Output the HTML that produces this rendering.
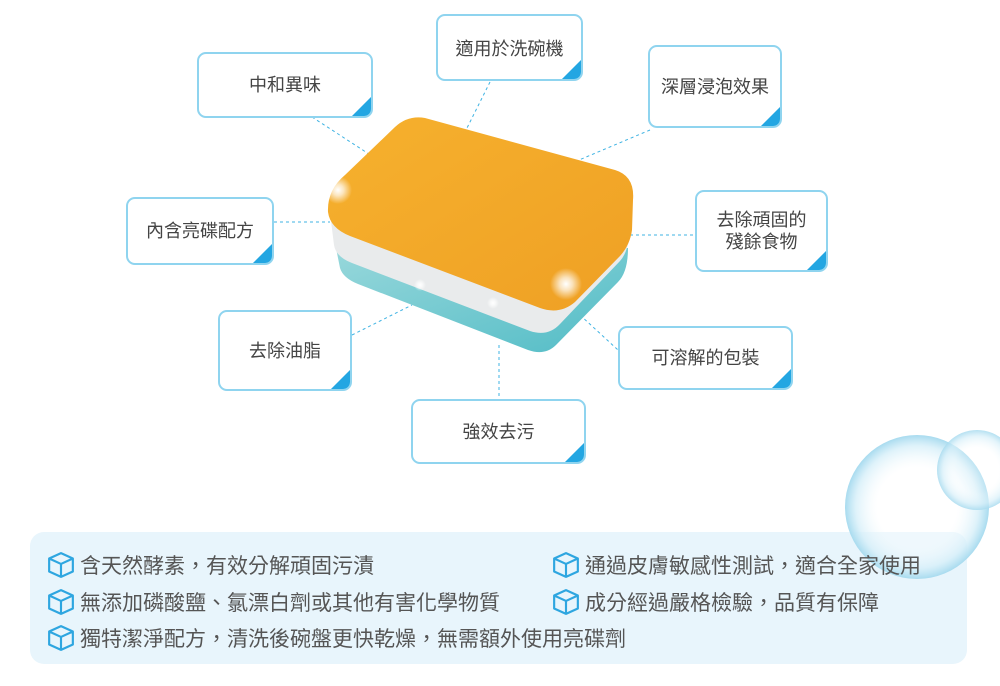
<!DOCTYPE html>
<html><head><meta charset="utf-8"><style>
body{margin:0;width:1000px;height:686px;background:#fff;position:relative;overflow:hidden;font-family:"Liberation Sans","Noto Sans CJK TC",sans-serif;}
.b{position:absolute;box-sizing:border-box;border:2px solid #8fd4ef;border-radius:9px;background:#fff;display:flex;align-items:center;justify-content:center;text-align:center;color:#444;font-size:18px;line-height:22px;overflow:hidden}
.b::after{content:"";position:absolute;right:0;bottom:0;width:0;height:0;border-style:solid;border-width:0 0 19px 19px;border-color:transparent transparent #23a6e2 transparent}
svg{position:absolute;left:0;top:0}
.foot{position:absolute;left:30px;top:532px;width:937px;height:132px;background:#e8f5fc;border-radius:14px}
.li{position:absolute;font-size:21px;color:#555;display:flex;align-items:center;white-space:nowrap}
.li svg{position:static;margin-right:5px}
</style></head><body>
<div class="foot"></div>
<svg width="1000" height="686">
<defs>
<radialGradient id="bub" cx="0.5" cy="0.5" r="0.5"><stop offset="0.55" stop-color="#fff" stop-opacity="0.3"/><stop offset="0.85" stop-color="#d6eff9" stop-opacity="0.8"/><stop offset="1" stop-color="#a8dbef"/></radialGradient>
<radialGradient id="spk" cx="0.5" cy="0.5" r="0.5"><stop offset="0" stop-color="#fff"/><stop offset="0.4" stop-color="#fff" stop-opacity="0.7"/><stop offset="1" stop-color="#fff" stop-opacity="0"/></radialGradient>
<linearGradient id="org" x1="0" y1="0" x2="1" y2="1"><stop offset="0" stop-color="#f6b12e"/><stop offset="1" stop-color="#efa024"/></linearGradient>
<linearGradient id="tea" x1="0" y1="0" x2="1" y2="1"><stop offset="0" stop-color="#9bd9dc"/><stop offset="1" stop-color="#52bcc6"/></linearGradient>
</defs>
<circle cx="917" cy="507" r="72" fill="url(#bub)"/>
<circle cx="977" cy="470" r="40" fill="url(#bub)" opacity="0.85"/>
<g stroke="#3fb3e3" stroke-width="1" stroke-dasharray="3,3" fill="none">
<line x1="312" y1="117" x2="375" y2="158"/>
<line x1="490" y1="82" x2="465" y2="132"/>
<line x1="650" y1="130" x2="572" y2="163"/>
<line x1="274" y1="222" x2="330" y2="222"/>
<line x1="630" y1="235" x2="695" y2="235"/>
<line x1="352" y1="335" x2="412" y2="305"/>
<line x1="580" y1="315" x2="618" y2="350"/>
<line x1="499" y1="345" x2="499" y2="399"/>
</g>
<path d="M334,238 L340,268 Q343,278 358,284 L528,350 Q545,356 556,345 L618,282 Q628,272 628,248 Z" fill="url(#tea)"/>
<path d="M330,213 L334,245 Q336,257 352,263 L530,331 Q548,337 560,324 L620,261 Q630,250 630,223 Z" fill="#e9ebec"/>
<path d="M425,118 L615,170 Q635,176 633,200 L632,230 Q630,245 620,256 L575,302 Q560,315 540,308 L350,236 Q330,228 328,212 Q327,190 345,175 L395,127 Q408,115 425,118 Z" fill="url(#org)"/>
<circle cx="338" cy="190" r="14" fill="url(#spk)"/>
<circle cx="566" cy="284" r="16" fill="url(#spk)"/>
<circle cx="420" cy="285" r="6" fill="url(#spk)"/>
<circle cx="493" cy="303" r="6" fill="url(#spk)"/>
</svg>
<div class="b" style="left:197px;top:52px;width:176px;height:66px">中和異味</div>
<div class="b" style="left:436px;top:14px;width:147px;height:67px;align-items:flex-start;padding-top:22px">適用於洗碗機</div>
<div class="b" style="left:648px;top:45px;width:134px;height:83px">深層浸泡效果</div>
<div class="b" style="left:126px;top:197px;width:148px;height:68px">內含亮碟配方</div>
<div class="b" style="left:695px;top:190px;width:133px;height:82px">去除頑固的<br>殘餘食物</div>
<div class="b" style="left:218px;top:310px;width:134px;height:81px">去除油脂</div>
<div class="b" style="left:618px;top:326px;width:175px;height:64px">可溶解的包裝</div>
<div class="b" style="left:411px;top:399px;width:175px;height:65px">強效去污</div>
<div class="li" style="left:47px;top:550px"><svg width="28" height="28" viewBox="0 0 26 26"><path d="M13 2 L24 7 L24 19 L13 24 L2 19 L2 7 Z M2 7 L13 12 L24 7 M13 12 L13 24" fill="none" stroke="#2ea6e0" stroke-width="2" stroke-linejoin="round"/></svg>含天然酵素，有效分解頑固污漬</div>
<div class="li" style="left:47px;top:587px"><svg width="28" height="28" viewBox="0 0 26 26"><path d="M13 2 L24 7 L24 19 L13 24 L2 19 L2 7 Z M2 7 L13 12 L24 7 M13 12 L13 24" fill="none" stroke="#2ea6e0" stroke-width="2" stroke-linejoin="round"/></svg>無添加磷酸鹽、氯漂白劑或其他有害化學物質</div>
<div class="li" style="left:47px;top:623px"><svg width="28" height="28" viewBox="0 0 26 26"><path d="M13 2 L24 7 L24 19 L13 24 L2 19 L2 7 Z M2 7 L13 12 L24 7 M13 12 L13 24" fill="none" stroke="#2ea6e0" stroke-width="2" stroke-linejoin="round"/></svg>獨特潔淨配方，清洗後碗盤更快乾燥，無需額外使用亮碟劑</div>
<div class="li" style="left:552px;top:550px"><svg width="28" height="28" viewBox="0 0 26 26"><path d="M13 2 L24 7 L24 19 L13 24 L2 19 L2 7 Z M2 7 L13 12 L24 7 M13 12 L13 24" fill="none" stroke="#2ea6e0" stroke-width="2" stroke-linejoin="round"/></svg>通過皮膚敏感性測試，適合全家使用</div>
<div class="li" style="left:552px;top:587px"><svg width="28" height="28" viewBox="0 0 26 26"><path d="M13 2 L24 7 L24 19 L13 24 L2 19 L2 7 Z M2 7 L13 12 L24 7 M13 12 L13 24" fill="none" stroke="#2ea6e0" stroke-width="2" stroke-linejoin="round"/></svg>成分經過嚴格檢驗，品質有保障</div>
</body></html>
